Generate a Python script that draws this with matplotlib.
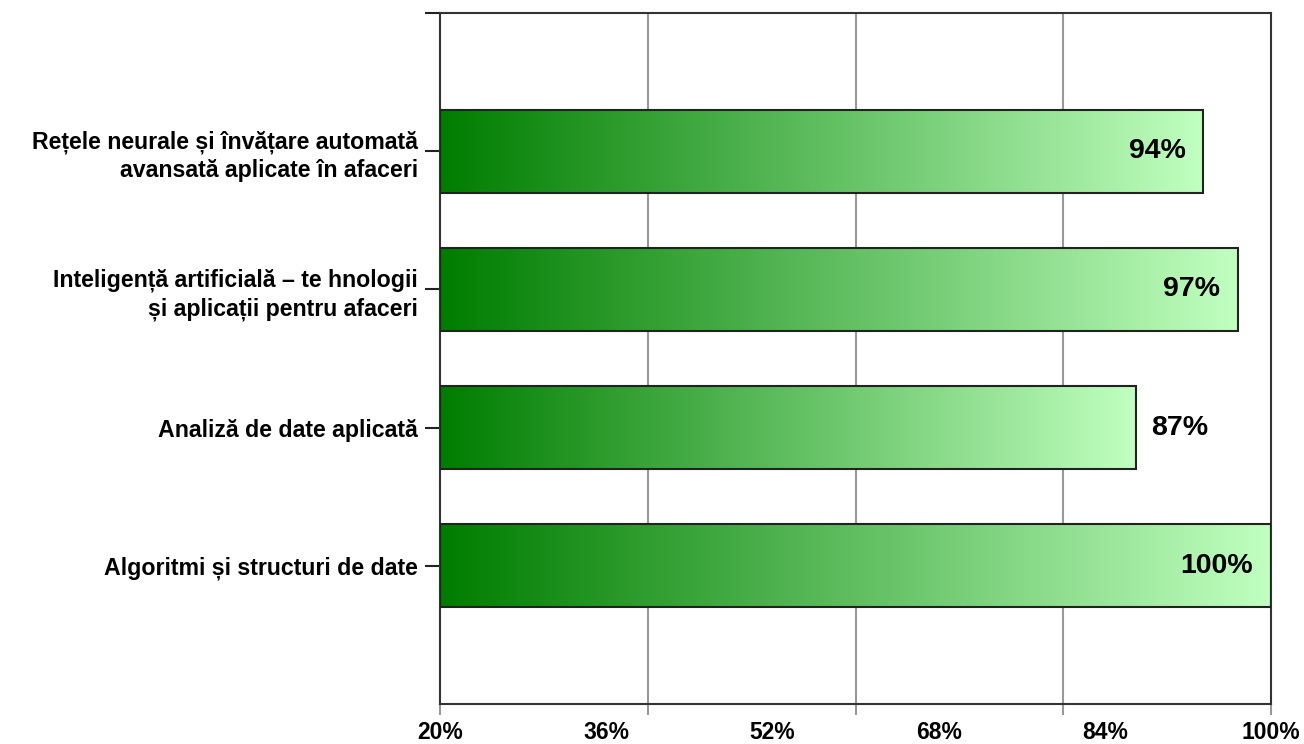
import numpy as np
import matplotlib
matplotlib.use("Agg")
import matplotlib.pyplot as plt
from matplotlib.colors import LinearSegmentedColormap

categories = [
    "Algoritmi și structuri de date",
    "Analiză de date aplicată",
    "Inteligență artificială – te hnologii\nși aplicații pentru afaceri",
    "Rețele neurale și învățare automată\navansată aplicate în afaceri",
]
values = [100, 87, 96.8, 93.5]
value_labels = ["100%", "87%", "97%", "94%"]
grid_ticks = [20, 40, 60, 80, 100]
label_positions = [20, 36, 52, 68, 84, 100]
xtick_labels = ["20%", "36%", "52%", "68%", "84%", "100%"]

plt.rcParams['font.family'] = ['Liberation Sans', 'DejaVu Sans']
plt.rcParams['font.weight'] = 'bold'

fig = plt.figure(figsize=(13.04, 7.44), dpi=100)
ax = fig.add_axes([440/1304, 40/744, 831/1304, 691/744])

cmap = LinearSegmentedColormap.from_list("g", ["#007d00", "#c0ffc0"])
grad = np.linspace(0, 1, 256).reshape(1, -1)
h = 0.6
xmin = 20
for i, v in enumerate(values):
    ax.imshow(grad, cmap=cmap, aspect='auto', extent=[xmin, v, i - h/2, i + h/2],
              interpolation='bilinear', zorder=2)
    ax.barh(i, v - xmin, left=xmin, height=h, facecolor='none',
            edgecolor='#222222', linewidth=1.5, zorder=3)
    if v >= 90:
        ax.text(v - 1.7, i, value_labels[i], ha='right', va='center',
                fontsize=20.5, fontweight='bold', color='black', zorder=4)
    else:
        ax.text(v + 1.5, i, value_labels[i], ha='left', va='center',
                fontsize=20.5, fontweight='bold', color='black', zorder=4)

ax.set_xlim(20, 100)
ax.set_ylim(-1, 4)
ax.xaxis.remove_overlapping_locs = False
# gray tick marks / gridlines at 20,40,...; labels spread evenly underneath
ax.set_xticks(grid_ticks)
ax.set_xticklabels([])
ax.set_xticks(label_positions, minor=True)
ax.set_xticklabels(xtick_labels, minor=True, fontsize=16.5, fontweight='bold')
ax.tick_params(axis='x', which='major', length=8, width=1.5, color='#999999')
ax.tick_params(axis='x', which='minor', length=0, pad=12)

ax.set_yticks(range(len(categories)))
ax.set_yticklabels(categories, fontsize=16.7, fontweight='bold', linespacing=1.27)
ax.set_yticks([4], minor=True)
ax.tick_params(axis='y', which='both', length=11, width=1.5, color='#222222', pad=5)

for x in grid_ticks[1:-1]:
    ax.axvline(x, color='#999999', linewidth=1.5, zorder=1)

for s in ax.spines.values():
    s.set_color('#333333')
    s.set_linewidth(1.5)

fig.savefig("out.png", dpi=100)
